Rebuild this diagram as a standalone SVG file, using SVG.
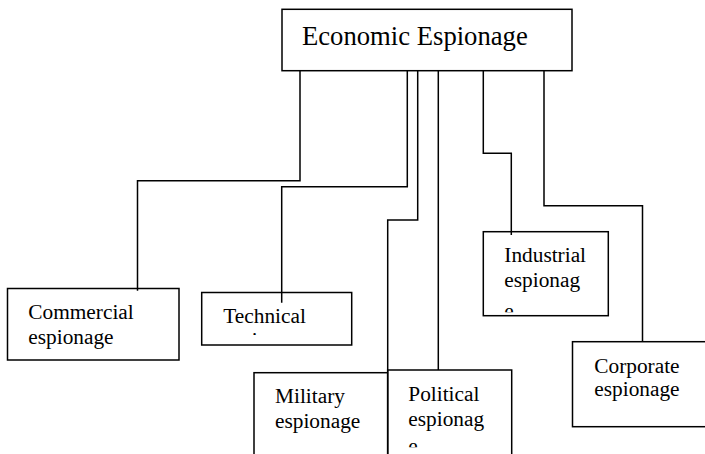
<svg xmlns="http://www.w3.org/2000/svg" width="705" height="454" viewBox="0 0 705 454">
<style>
.box{fill:#fff;stroke:#000;stroke-width:1.5}
.t{font-size:21.33px;fill:#000}
.title{font-size:26.67px;fill:#000}
.conn{fill:none;stroke:#000;stroke-width:1.5}
</style>
<defs>
<clipPath id="clipTech"><rect x="201" y="292" width="151" height="43"/></clipPath>
<clipPath id="clipPol"><rect x="387" y="370" width="125" height="77.3"/></clipPath>
<clipPath id="clipInd"><rect x="483" y="231" width="126" height="81.3"/></clipPath>
</defs>
<g id="economic">
<rect class="box" x="282" y="9.3" width="290" height="61.4"/>
<text class="title" font-family="Liberation Serif, serif" x="302" y="45">Economic Espionage</text>
</g>
<g id="commercial" font-family="Liberation Serif, serif">
<rect class="box" x="7.5" y="288.5" width="171.5" height="71.5"/>
<text class="t" x="28.3" y="319.3">Commercial</text>
<text class="t" x="28.3" y="344.3">espionage</text>
</g>
<g id="technical" font-family="Liberation Serif, serif">
<rect class="box" x="201.7" y="292.5" width="150" height="52.5"/>
<g clip-path="url(#clipTech)">
<text class="t" x="223.3" y="323.3">Technical</text>
<text class="t" x="223.3" y="347">espionage</text>
</g>
</g>
<g id="military" font-family="Liberation Serif, serif">
<rect class="box" x="254" y="372.7" width="133.7" height="100"/>
<text class="t" x="275" y="403.3">Military</text>
<text class="t" x="275" y="428.3">espionage</text>
</g>
<g id="political" font-family="Liberation Serif, serif">
<rect class="box" x="387.7" y="370" width="124" height="100"/>
<g clip-path="url(#clipPol)">
<text class="t" x="408.3" y="400.7">Political</text>
<text class="t" x="408.3" y="425.7">espionag</text>
<text class="t" x="408.3" y="452.6">e</text>
</g>
</g>
<g id="industrial" font-family="Liberation Serif, serif">
<rect class="box" x="483.3" y="231.7" width="125" height="84"/>
<g clip-path="url(#clipInd)">
<text class="t" x="504.3" y="262.3">Industrial</text>
<text class="t" x="504.3" y="286.7">espionag</text>
<text class="t" x="504.3" y="317.6">e</text>
</g>
</g>
<g id="corporate" font-family="Liberation Serif, serif">
<rect class="box" x="572.5" y="341.7" width="150" height="85"/>
<text class="t" x="594.3" y="373.3">Corporate</text>
<text class="t" x="594.3" y="395.5">espionage</text>
</g>
<g id="connectors">
<path class="conn" d="M300,70.7 V180.7 H137.5 V290.7"/>
<path class="conn" d="M407.3,70.7 V186.7 H281.7 V302.7"/>
<path class="conn" d="M417.7,70.7 V220 H387.7 V454"/>
<path class="conn" d="M438.3,70.7 V370"/>
<path class="conn" d="M483.3,70.7 V153.3 H511.3 V235"/>
<path class="conn" d="M544,70.7 V205.7 H642.5 V341.7"/>
</g>
</svg>
